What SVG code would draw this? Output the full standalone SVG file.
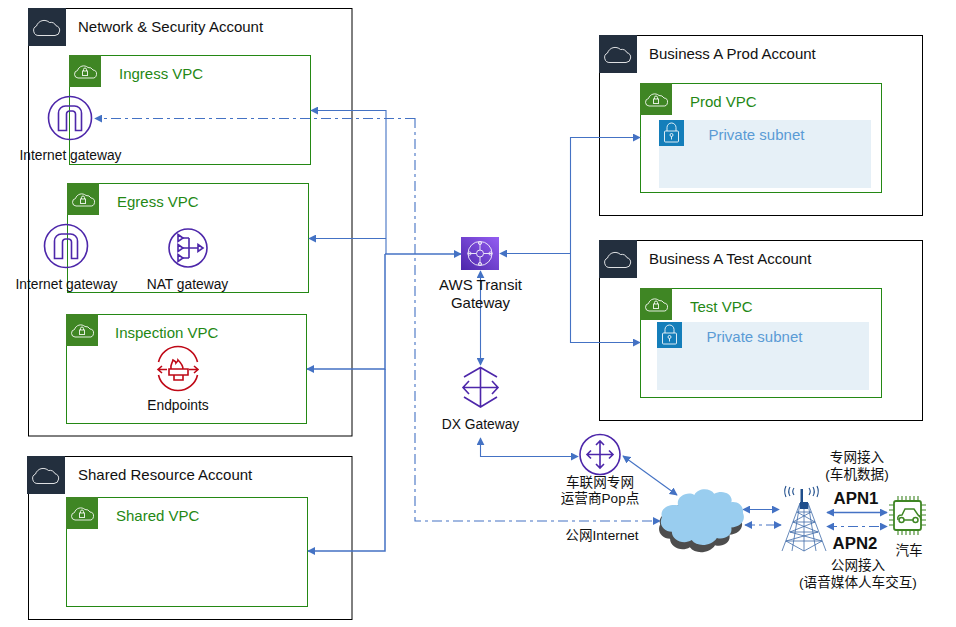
<svg xmlns="http://www.w3.org/2000/svg" xmlns:xlink="http://www.w3.org/1999/xlink" width="956" height="627" viewBox="0 0 956 627">
<style>
text{font-family:"Liberation Sans","Noto Sans CJK SC",sans-serif;fill:#111}
.acct{fill:#fff;stroke:#000;stroke-width:1}
.vpc{fill:#fff;stroke:#248814;stroke-width:1}
.vt{font-size:15px;fill:#248814}
.at{font-size:15px}
.lb{font-size:13.8px;text-anchor:middle}
.lg{font-size:15px;text-anchor:middle}
.cj{font-size:13.6px;text-anchor:middle}
.st{font-size:15px;fill:#5A9BD5}
.c{fill:none;stroke:#4472C4;stroke-width:1.100}
.d{stroke-dasharray:10 4 3 4}
.ic{fill:none;stroke:#fff;stroke-width:1;opacity:.85}
.pu{fill:none;stroke:#4D27AA;stroke-width:1.600}
.red{fill:none;stroke:#BF0816;stroke-width:1.600}
</style>
<defs>
<marker id="a" viewBox="0 0 10 10" refX="9" refY="5" markerWidth="8" markerHeight="8" markerUnits="userSpaceOnUse" orient="auto-start-reverse"><path d="M0 0L10 5L0 10Z" fill="#4472C4"/></marker>
<linearGradient id="tg" x1="1" y1="0" x2="0" y2="1"><stop offset="0" stop-color="#945DF2"/><stop offset="1" stop-color="#4D27AA"/></linearGradient>
<g id="acloud"><rect width="38" height="38" fill="#232F3E"/><path class="ic" d="M11 27.500H27a5 5 0 0 0 1-9.800a6 6 0 0 0-6.500-3.200a8 8 0 0 0-13 3.500a5 5 0 0 0 2.500 9.500z"/></g>
<g id="vcloud"><rect width="32" height="32" fill="#3F8624"/><path class="ic" d="M9 23H23a4 4 0 0 0 1-8a5 5 0 0 0-5-2.500a6.500 6.500 0 0 0-10.500 3a3.800 3.800 0 0 0 .5 7.500z"/><rect class="ic" x="13.500" y="16" width="5" height="4.500"/><path class="ic" d="M14.500 16v-1.500a1.500 1.500 0 0 1 3 0v1.500"/></g>
<g id="lock"><rect width="25" height="26" fill="#147EBA"/><rect class="ic" x="5.500" y="11" width="14" height="11" rx="1"/><path class="ic" d="M8 11V7.500a4.500 4.500 0 0 1 9 0V11"/><circle class="ic" cx="12.500" cy="15" r="1.500"/><path class="ic" d="M12.500 16.500v3"/></g>
<g id="igw"><circle class="pu" cx="0" cy="0" r="21.500"/><path class="pu" d="M-11.500 12.500V-5a7 7 0 0 1 7-7h9a7 7 0 0 1 7 7V12.500h-6V-4a3 3 0 0 0-3-3h-3a3 3 0 0 0-3 3V12.500z"/></g>
<path id="cl" d="M676 504c-3-8 10-14 18-10c4-7 18-7 22-1c10-5 22 1 19 8c8-1 14 4 13 10c4 8-4 14-13 14c2 8-8 12-16 10c-6 8-22 9-28 2c-9 5-22 0-22-8c-9 0-15-7-11-14c-3-8 8-13 18-11z"/>
</defs>

<g id="network-security-account">
<rect class="acct" x="28.500" y="8.500" width="323.500" height="427.500"/>
<use href="#acloud" x="28" y="8"/>
<text class="at" x="78" y="32">Network &amp; Security Account</text>
</g>
<g id="ingress-vpc">
<rect class="vpc" x="69.500" y="55.500" width="241" height="109"/>
<use href="#vcloud" x="69" y="55"/>
<text class="vt" x="119" y="79">Ingress VPC</text>
</g>
<g id="ingress-igw">
<use href="#igw" x="70" y="118"/>
<text class="lb" x="70.500" y="160">Internet gateway</text>
</g>
<g id="egress-vpc">
<rect class="vpc" x="67.500" y="183.500" width="241" height="109"/>
<use href="#vcloud" x="67" y="183"/>
<text class="vt" x="117" y="207">Egress VPC</text>
</g>
<g id="egress-igw">
<use href="#igw" x="66" y="246"/>
<text class="lb" x="66.500" y="289">Internet gateway</text>
</g>
<g id="nat-gateway">
<circle class="pu" cx="188" cy="248" r="19"/>
<path class="pu" d="M189 238H183M189 248H183M189 258H183M189 238V258M189 248H198"/>
<path class="pu" d="M178 234.500l5 3.500l-5 3.500zM178 244.500l5 3.500l-5 3.500zM178 254.500l5 3.500l-5 3.500zM198 244.500l5 3.500l-5 3.500z"/>
<text class="lb" x="187.500" y="289">NAT gateway</text>
</g>
<g id="inspection-vpc">
<rect class="vpc" x="66.500" y="314.500" width="240" height="109"/>
<use href="#vcloud" x="66" y="314"/>
<text class="vt" x="115" y="338">Inspection VPC</text>
</g>
<g id="endpoints">
<path class="red" d="M158.500 362a20 20 0 0 1 39 0M158.500 375a20 20 0 0 0 39 0"/>
<path class="red" d="M158 369.500h9M162 366l-4 3.500l4 3.500M189 369.500h9M194 366l4 3.500l-4 3.500"/>
<path class="red" d="M169 375v-6h19v6zM174 375v5h9v-5M171 369c-1-4 1-5 2-9c2 1 3 2 3 3c1-1 2-2 2-3c3 3 5 5 5 9"/>
<text class="lb" x="178" y="410">Endpoints</text>
</g>
<g id="shared-resource-account">
<rect class="acct" x="28.500" y="456.500" width="323.500" height="163"/>
<use href="#acloud" x="27" y="456"/>
<text class="at" x="78" y="480">Shared Resource Account</text>
</g>
<g id="shared-vpc">
<rect class="vpc" x="66.500" y="497.500" width="241" height="109"/>
<use href="#vcloud" x="66" y="497"/>
<text class="vt" x="116" y="521">Shared VPC</text>
</g>
<g id="prod-account">
<rect class="acct" x="599.500" y="35.500" width="323" height="180"/>
<use href="#acloud" x="599" y="35"/>
<text class="at" x="649" y="59">Business A Prod Account</text>
</g>
<g id="prod-vpc">
<rect class="vpc" x="640.500" y="83.500" width="241" height="109"/>
<use href="#vcloud" x="640" y="83"/>
<text class="vt" x="690" y="107">Prod VPC</text>
</g>
<g id="prod-subnet">
<rect x="659" y="120" width="212" height="68" fill="#E6F0F7"/>
<use href="#lock" x="659" y="120"/>
<text class="st" x="708.500" y="140">Private subnet</text>
</g>
<g id="test-account">
<rect class="acct" x="599.500" y="240.500" width="323" height="180"/>
<use href="#acloud" x="599" y="240"/>
<text class="at" x="649" y="264">Business A Test Account</text>
</g>
<g id="test-vpc">
<rect class="vpc" x="640.500" y="288.500" width="241" height="109"/>
<use href="#vcloud" x="640" y="288"/>
<text class="vt" x="690" y="312">Test VPC</text>
</g>
<g id="test-subnet">
<rect x="657" y="322" width="212" height="68" fill="#E6F0F7"/>
<use href="#lock" x="657" y="322"/>
<text class="st" x="706.500" y="342">Private subnet</text>
</g>
<g id="connectors">
<path class="c" marker-end="url(#a)" d="M386 254V110.500H311"/>
<path class="c" marker-end="url(#a)" d="M386 238.500H309"/>
<path class="c" style="stroke-width:1.500" marker-end="url(#a)" d="M385 254V369H307"/>
<path class="c" style="stroke-width:1.500" marker-end="url(#a)" d="M385 369V551H308"/>
<path class="c" style="stroke-width:1.600" marker-end="url(#a)" d="M385 254H461"/>
<path class="c" marker-end="url(#a)" d="M570 253.500H500"/>
<path class="c" marker-end="url(#a)" d="M570.500 254V137.500H640"/>
<path class="c" marker-end="url(#a)" d="M570.500 254V342.500H640"/>
<path class="c" marker-start="url(#a)" marker-end="url(#a)" d="M480.500 271V365"/>
<path class="c" marker-start="url(#a)" marker-end="url(#a)" d="M480.500 438V456.500H578"/>
<path class="c" marker-start="url(#a)" marker-end="url(#a)" d="M623 456L677 495"/>
<path class="c d" marker-end="url(#a)" d="M415 118.500H95"/>
<path class="c d" marker-end="url(#a)" d="M415 118V521H660"/>
<path class="c" marker-start="url(#a)" marker-end="url(#a)" d="M743 509.500H779"/>
<path class="c d" marker-start="url(#a)" marker-end="url(#a)" d="M745 525H781"/>
<path class="c" style="stroke-width:1.300" marker-start="url(#a)" marker-end="url(#a)" d="M827 512.500H887"/>
<path class="c d" marker-start="url(#a)" marker-end="url(#a)" d="M827 526.500H887"/>
</g>
<g id="transit-gateway">
<rect x="461" y="237" width="38" height="33" fill="url(#tg)"/>
<g fill="none" stroke="#fff" stroke-width="1" opacity=".85"><circle cx="480" cy="253.500" r="12"/><circle cx="480" cy="253.500" r="3.500"/><path d="M468 253.500h8.500M483.500 253.500h8.500M480 241.500v8.500M480 257v8.500"/><circle cx="480" cy="243" r="1.600"/><circle cx="480" cy="264" r="1.600"/><circle cx="469.500" cy="253.500" r="1.600"/><circle cx="490.500" cy="253.500" r="1.600"/></g>
<text class="lg" x="480.500" y="290">AWS Transit</text>
<text class="lg" x="480.500" y="308">Gateway</text>
</g>
<g id="dx-gateway">
<path class="pu" d="M464 377L480.500 367.500L497 377M464 397L480.500 407L497 397M480.500 367.500V407M463 387.500H498M469 381l-6 6.500l6 6.500M492 381l6 6.500l-6 6.500"/>
<text class="lb" x="480.500" y="429">DX Gateway</text>
</g>
<g id="pop">
<circle class="pu" cx="600" cy="454.500" r="20"/>
<path class="pu" d="M600 441V468M587 454.500H613M596 445l4-4l4 4M596 464l4 4l4-4M591 450.500l-4 4l4 4M609 450.500l4 4l-4 4"/>
<text class="cj" x="600" y="487">车联网专网</text>
<text class="cj" x="600" y="503">运营商Pop点</text>
</g>
<g id="cloud">
<use href="#cl" fill="#4d4d4d" transform="translate(702 521) scale(.9 1.050) translate(-702.500 -516) translate(-2 4)"/>
<use href="#cl" fill="#99CDEF" transform="translate(702 518) scale(.9 1.050) translate(-702.500 -516)"/>
</g>
<text id="internet-label" class="cj" x="602" y="540">公网Internet</text>
<g id="tower">
<g fill="none" stroke="#3F6BA8" stroke-width=".8">
<path d="M800 503L782 551M808 503L826 551M797 512H811M793 522H815M790 532H818M786 541H822M797 512L815 522M811 512L793 522M793 522L818 532M815 522L790 532M790 532L822 541M818 532L786 541M786 541L804 551M822 541L804 551M804 508V551M800 503L792 551M808 503L816 551"/>
</g>
<g fill="none" stroke="#1F4E8C" stroke-width="1.100">
<path d="M786 486a13 13 0 0 0 0 11M790 487a9 9 0 0 0 0 9M794 488a6 6 0 0 0 0 7M817 486a13 13 0 0 1 0 11M813 487a9 9 0 0 1 0 9M809 488a6 6 0 0 1 0 7"/>
</g>
<rect x="800" y="502" width="8" height="7" fill="#1F4E8C"/>
<rect x="800.500" y="489" width="2.500" height="13" fill="#1F4E8C"/>
</g>
<g id="apn-labels">
<text class="cj" x="857" y="462">专网接入</text>
<text class="cj" x="857" y="479">(车机数据)</text>
<text x="856" y="504" font-size="16.800px" font-weight="700" text-anchor="middle">APN1</text>
<text x="855" y="549" font-size="16.800px" font-weight="700" text-anchor="middle">APN2</text>
<text class="cj" x="858" y="570">公网接入</text>
<text class="cj" x="858" y="587">(语音媒体人车交互)</text>
</g>
<g id="car">
<rect x="894" y="501" width="27" height="29" rx="2" fill="none" stroke="#3F8624" stroke-width="1.800"/>
<path fill="none" stroke="#3F8624" stroke-width="1.100" d="M898 501v-5M902 501v-5M906 501v-5M910 501v-5M914 501v-5M918 501v-5M898 530v5M902 530v5M906 530v5M910 530v5M914 530v5M918 530v5M894 505h-5M894 510h-5M894 515h-5M894 520h-5M894 525h-5M921 505h5M921 510h5M921 515h5M921 520h5M921 525h5"/>
<path fill="none" stroke="#3F8624" stroke-width="1.500" d="M898 520c-1-4 1-5 4-5l3-6h9l4 6c2 1 3 3 3 5M904 520h9"/>
<circle cx="901.500" cy="520" r="2.500" fill="none" stroke="#3F8624" stroke-width="1.500"/>
<circle cx="915.500" cy="520" r="2.500" fill="none" stroke="#3F8624" stroke-width="1.500"/>
<text class="cj" x="909" y="555">汽车</text>
</g>
</svg>
